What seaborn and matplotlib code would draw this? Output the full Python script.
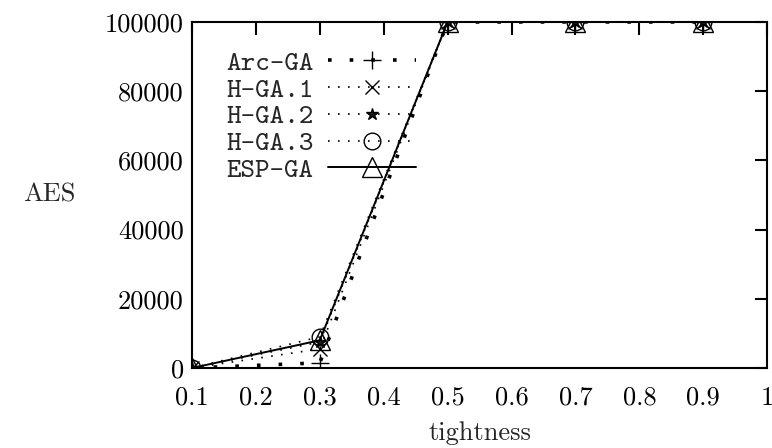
import matplotlib
matplotlib.use('Agg')
import matplotlib.pyplot as plt
import seaborn as sns

# tightness values and AES for each algorithm
tightness = [0.1, 0.3, 0.5, 0.7, 0.9]
arc_ga = [0, 1500, 100000, 100000, 100000]
h_ga1 = [0, 5500, 100000, 100000, 100000]
h_ga2 = [0, 7500, 100000, 100000, 100000]
h_ga3 = [0, 9000, 100000, 100000, 100000]
esp_ga = [0, 8000, 100000, 100000, 100000]

x_ticks = [0.1, 0.2, 0.3, 0.4, 0.5, 0.6, 0.7, 0.8, 0.9, 1.0]
x_labels = ['0.1', '0.2', '0.3', '0.4', '0.5', '0.6', '0.7', '0.8', '0.9', '1']
y_ticks = [0, 20000, 40000, 60000, 80000, 100000]

sns.set_theme(style='white')
plt.rcParams['font.family'] = ['cmr10', 'DejaVu Serif']
plt.rcParams['axes.unicode_minus'] = False

fig = plt.figure(figsize=(7.72, 4.48), dpi=100)
ax = fig.add_axes([0.2487, 0.1786, 0.745, 0.7724])

series = [
    ('Arc-GA', arc_ga, '+', (0, (1, 5)), 2.6, 13, 'k'),
    ('H-GA.1', h_ga1, 'x', (0, (1, 5)), 1.2, 10, 'k'),
    ('H-GA.2', h_ga2, '*', (0, (1, 5)), 1.2, 9, 'k'),
    ('H-GA.3', h_ga3, 'o', (0, (1, 5)), 1.2, 12, 'none'),
    ('ESP-GA', esp_ga, '^', '-', 1.4, 14, 'none'),
]
for name, vals, mk, ls, lw, ms, mfc in series:
    sns.lineplot(x=tightness, y=vals, ax=ax, color='black', linestyle=ls,
                 linewidth=lw, marker=mk, markersize=ms, markerfacecolor=mfc,
                 markeredgecolor='black', markeredgewidth=1.0, label=name)

ax.set_xlim(0.1, 1.0)
ax.set_ylim(0, 100000)
ax.set_xticks(x_ticks)
ax.set_xticklabels(x_labels)
ax.set_yticks(y_ticks)
ax.set_yticklabels([str(v) for v in y_ticks])
ax.tick_params(direction='in', length=9, width=1.5, labelsize=19,
               top=True, right=True, colors='black', pad=6)
ax.tick_params(axis='x', pad=13)
for s in ax.spines.values():
    s.set_linewidth(1.5)
    s.set_color('black')

ax.set_xlabel('tightness', fontsize=19, labelpad=8)
ax.set_ylabel('AES', fontsize=19, rotation=0, labelpad=40, va='center')

leg = ax.legend(loc='upper left', bbox_to_anchor=(0.04, 0.95), frameon=False,
                markerfirst=False, handlelength=3.2, handletextpad=0.5,
                labelspacing=0.05, borderaxespad=0,
                prop={'family': ['cmtt10', 'DejaVu Sans Mono'], 'size': 20})

fig.savefig('out.png', dpi=100, facecolor='white')
